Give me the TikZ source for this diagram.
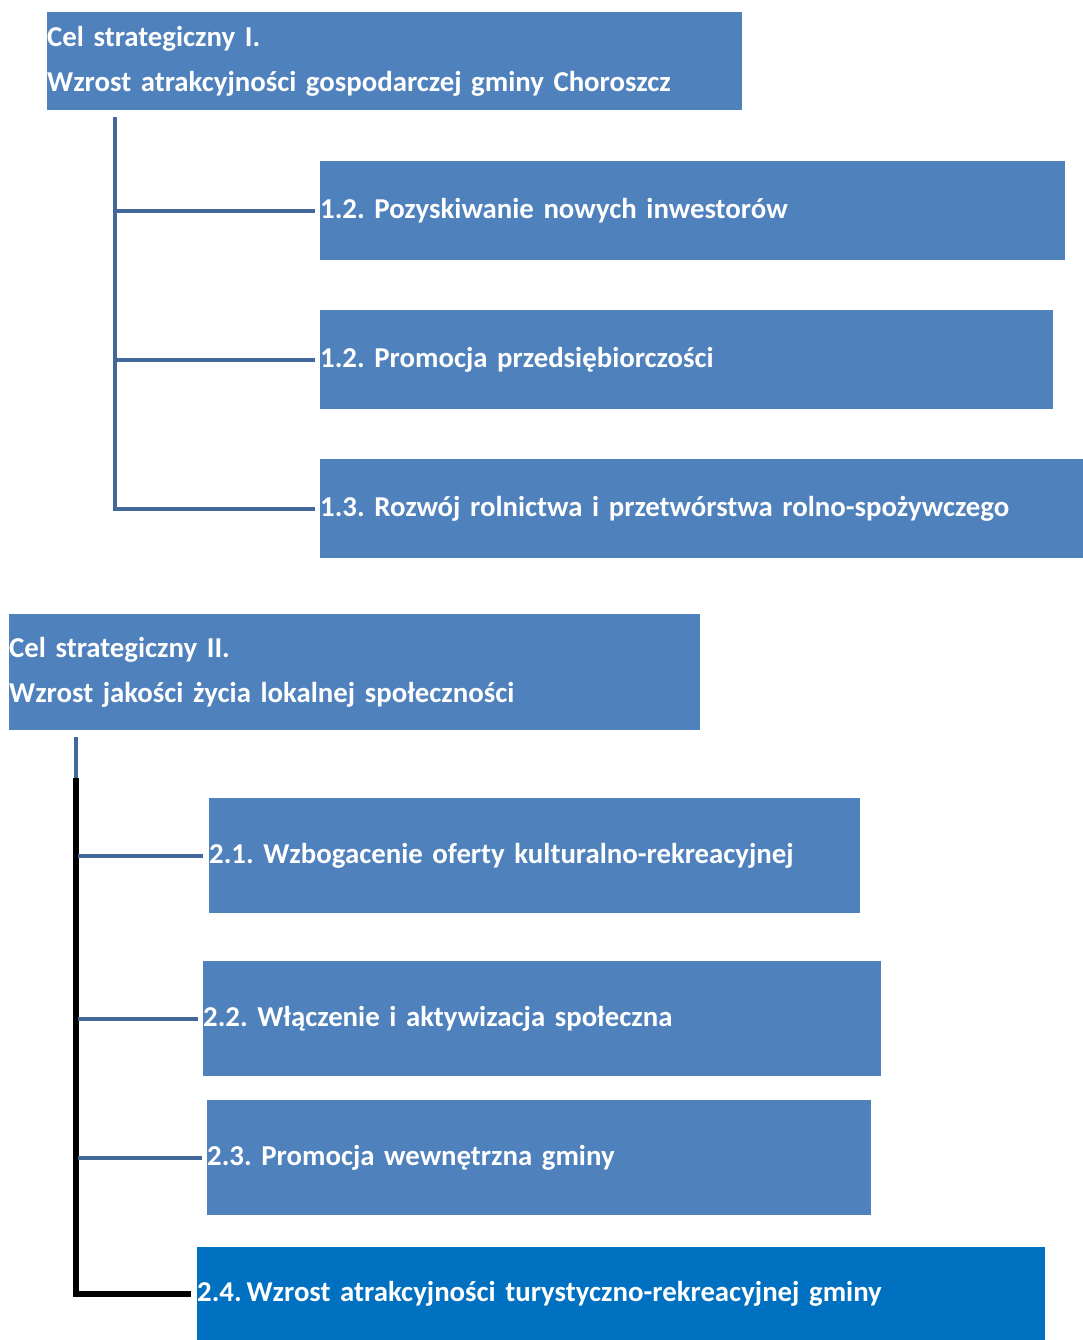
\documentclass[tikz,border=0pt]{standalone}
\usepackage{fontspec}
\setmainfont{Carlito}
\frenchspacing
\definecolor{boxblue}{RGB}{79,129,189}
\definecolor{boxdark}{RGB}{0,112,192}
\definecolor{linkblue}{RGB}{65,104,152}
\begin{document}
\begin{tikzpicture}[x=1pt,y=-1pt,
  box/.style={fill=boxblue,draw=none,anchor=north west,inner xsep=0pt,inner ysep=0pt,
    align=left,text=white,font=\bfseries\fontsize{28.8}{45}\selectfont},
  link/.style={draw=linkblue,line width=4pt},
  blacklink/.style={draw=black,line width=6pt}]
\useasboundingbox (0,0) rectangle (1083,1340);
% Goal I
\node[box,text width=695pt,minimum height=98pt] (g1) at (47,12) {Cel strategiczny I.\\Wzrost atrakcyjności gospodarczej gminy Choroszcz};
\node[box,text width=745pt,minimum height=99pt] (s11) at (320,161) {1.2. Pozyskiwanie nowych inwestorów};
\node[box,text width=733pt,minimum height=99pt] (s12) at (320,310) {1.2. Promocja przedsiębiorczości};
\node[box,text width=763pt,minimum height=99pt] (s13) at (320,459) {1.3. Rozwój rolnictwa i przetwórstwa rolno-spożywczego};
\coordinate (t1) at (115,117);
\draw[link] (t1) -- (t1 |- s13.west) -- ([xshift=-5pt]s13.west);
\draw[link] (t1 |- s11.west) -- ([xshift=-5pt]s11.west);
\draw[link] (t1 |- s12.west) -- ([xshift=-5pt]s12.west);
% Goal II
\node[box,text width=691pt,minimum height=116pt] (g2) at (9,614) {Cel strategiczny II.\\Wzrost jakości życia lokalnej społeczności};
\node[box,text width=651pt,minimum height=115pt] (s21) at (209,798) {2.1. Wzbogacenie oferty kulturalno-rekreacyjnej};
\node[box,text width=678pt,minimum height=115pt] (s22) at (203,961) {2.2. Włączenie i aktywizacja społeczna};
\node[box,text width=664pt,minimum height=115pt] (s23) at (207,1100) {2.3. Promocja wewnętrzna gminy};
\node[box,fill=boxdark,text width=848pt,minimum height=93pt] (s24) at (197,1247) {2.4.\,Wzrost atrakcyjności turystyczno-rekreacyjnej gminy};
\coordinate (t2) at (76,737);
\coordinate (t2b) at (76,778);
\draw[blacklink] (t2b) -- (t2b |- s24.west) -- ([xshift=-6pt]s24.west);
\draw[link] (t2) -- (t2b);
\draw[link] ([xshift=2pt]t2 |- s21.west) -- ([xshift=-6pt]s21.west);
\draw[link] ([xshift=2pt]t2 |- s22.west) -- ([xshift=-5pt]s22.west);
\draw[link] ([xshift=2pt]t2 |- s23.west) -- ([xshift=-5pt]s23.west);
\end{tikzpicture}
\end{document}
